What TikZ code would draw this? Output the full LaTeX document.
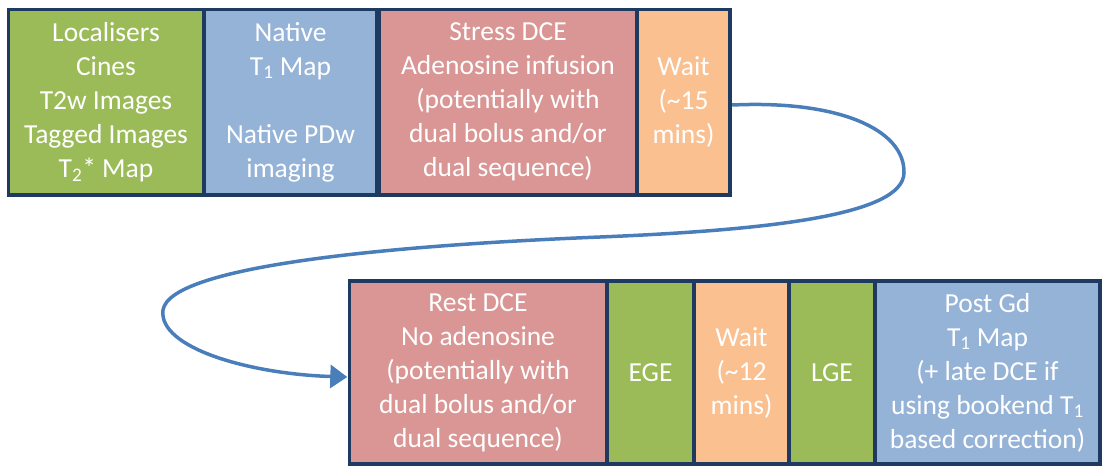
\documentclass[tikz,border=0pt]{standalone}
\usepackage{fontspec}
\setmainfont{Carlito}
\usetikzlibrary{arrows.meta,calc}
\definecolor{navy}{HTML}{1F3A60}
\definecolor{cgreen}{HTML}{9BBB59}
\definecolor{cblue}{HTML}{95B3D7}
\definecolor{cred}{HTML}{D99694}
\definecolor{corange}{HTML}{FAC090}
\definecolor{flow}{HTML}{4A7EBB}
\tikzset{
  frame/.style={fill=navy, inner sep=0pt, minimum width=#1},
  stage/.style={fill=#1, text=white, align=center, inner sep=0pt,
    font=\fontsize{27.5}{34}\selectfont},
  flowline/.style={draw=flow, line width=3.5pt, -{Triangle[length=17pt,width=23pt]}}
}
\newcommand{\Tsub}[1]{T\textsubscript{#1}}
\begin{document}
\begin{tikzpicture}[x=1pt,y=-1pt]
\useasboundingbox (0,0) rectangle (1103,466);
% first session
\node[frame=725.5pt, minimum height=189pt] (top) at (369.25,102) {};
\node[stage=cgreen, minimum width=192pt, minimum height=182pt] (loc) at (106,102)
  {Localisers\\Cines\\T2w Images\\Tagged Images\\\Tsub{2}* Map};
\node[stage=cblue, minimum width=169pt, minimum height=182pt] (nat) at (290.5,102)
  {Native\\\Tsub{1} Map\\[34pt]Native PDw\\imaging};
\node[stage=cred, minimum width=254pt, minimum height=182pt] (stress) at (508,102)
  {Stress DCE\\Adenosine infusion\\(potentially with\\dual bolus and/or\\dual sequence)};
\node[stage=corange, minimum width=89pt, minimum height=182pt] (wait1) at (683.5,102)
  {Wait\\(\textasciitilde15\\mins)};
% second session
\node[frame=754pt, minimum height=187pt] (bot) at (724.5,372.5) {};
\node[stage=cred, minimum width=254pt, minimum height=179pt] (rest) at (478,372.5)
  {Rest DCE\\No adenosine\\(potentially with\\dual bolus and/or\\dual sequence)};
\node[stage=cgreen, minimum width=83pt, minimum height=179pt] (ege) at (650.5,372.5) {EGE};
\node[stage=corange, minimum width=91pt, minimum height=179pt] (wait2) at (741.5,372.5)
  {Wait\\(\textasciitilde12\\mins)};
\node[stage=cgreen, minimum width=82pt, minimum height=179pt] (lge) at (832,372.5) {LGE};
\node[stage=cblue, minimum width=221pt, minimum height=179pt] (post) at (987.5,372.5)
  {Post Gd\\\Tsub{1} Map\\(+ late DCE if\\using bookend \Tsub{1}\\based correction)};
% transition between sessions
\coordinate (s) at ($(top.east)+(0,3)$);
\coordinate (e) at ($(bot.west)+(0,4.5)$);
\draw[flowline] (s) .. controls (840,100) and (905,130) .. (904,173)
  .. controls (903,215) and (770,230) .. (600,237)
  .. controls (400,245) and (170,265) .. (163,310)
  .. controls (158,348) and (250,374) .. (e);
\end{tikzpicture}
\end{document}
